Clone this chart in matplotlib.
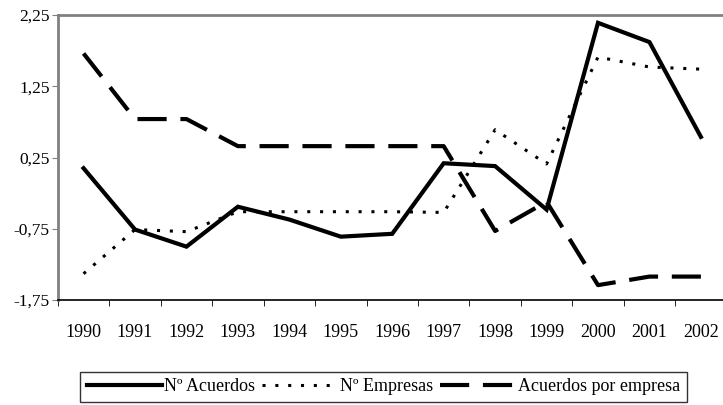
import numpy as np
import matplotlib.pyplot as plt

plt.rcParams['font.family'] = ['Liberation Serif', 'DejaVu Serif']

anios = ['1990', '1991', '1992', '1993', '1994', '1995', '1996',
         '1997', '1998', '1999', '2000', '2001', '2002']
acuerdos = [0.10, -0.76, -1.00, -0.44, -0.62, -0.86, -0.82,
            0.17, 0.13, -0.48, 2.14, 1.87, 0.54]
empresas = [-1.38, -0.76, -0.79, -0.51, -0.51, -0.51, -0.51,
            -0.52, 0.64, 0.16, 1.66, 1.52, 1.49]
acuerdos_empresa = [1.71, 0.79, 0.79, 0.41, 0.41, 0.41, 0.41,
                    0.41, -0.78, -0.37, -1.54, -1.42, -1.42]
yticks = [-1.75, -0.75, 0.25, 1.25, 2.25]

fig = plt.figure(figsize=(7.23, 4.05), dpi=100)
ax = fig.add_axes([0.080, 0.259, 0.925, 0.704])

x = np.arange(len(anios))
l1, = ax.plot(x, acuerdos, color='black', lw=3, solid_joinstyle='miter',
              label='Nº Acuerdos')
l2, = ax.plot(x, empresas, color='black', lw=2.2, dashes=(1.0, 3.2),
              label='Nº Empresas')
l3, = ax.plot(x, acuerdos_empresa, color='black', lw=3, dashes=(7, 3.3),
              label='Acuerdos por empresa')

ax.set_xlim(-0.5, 12.5)
ax.set_ylim(-1.75, 2.25)
ax.set_yticks(yticks)
ax.set_yticklabels([f'{v:.2f}'.replace('.', ',') for v in yticks])
ax.set_xticks(x)
ax.set_xticklabels(anios)
ax.set_xticks(np.arange(-0.5, 13, 1), minor=True)
ax.tick_params(axis='x', which='major', length=0, pad=17, labelsize=13)
ax.tick_params(axis='x', which='minor', length=4, color='black')
ax.tick_params(axis='y', length=4, color='gray', labelsize=12.5, pad=2)

for s in ['top', 'left', 'right']:
    ax.spines[s].set_color('gray')
    ax.spines[s].set_linewidth(2)
ax.spines['bottom'].set_color('black')
ax.spines['bottom'].set_linewidth(1.2)

leg = fig.legend(handles=[l1, l2, l3], loc='upper left',
                 bbox_to_anchor=(0.111, 0.0815), ncol=3, fontsize=13,
                 frameon=True, fancybox=False, edgecolor='black',
                 handlelength=4.2, handletextpad=0.1, columnspacing=0.4,
                 borderpad=0.35, borderaxespad=0)
leg.get_frame().set_linewidth(1)

fig.savefig('out.png', dpi=100)
